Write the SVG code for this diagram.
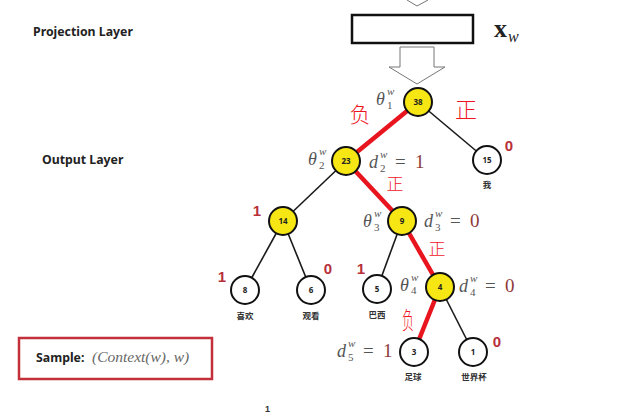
<svg xmlns="http://www.w3.org/2000/svg" width="638" height="413" viewBox="0 0 638 413">
<style>
.lbl{font-family:"Noto Sans","Liberation Sans",sans-serif;font-weight:bold;font-size:12.3px;fill:#222}
.nd{stroke:#111;stroke-width:2;}
.yel{fill:#f5e614}
.wht{fill:#fff}
.num{font-family:"Noto Sans","Liberation Sans",sans-serif;font-weight:bold;font-size:8px;fill:#222;text-anchor:middle}
.word{font-family:"Noto Sans CJK SC",sans-serif;font-weight:bold;font-size:8.5px;fill:#333;text-anchor:middle}
.e{stroke:#1a1a1a;stroke-width:1.6;fill:none}
.r{stroke:#e8141e;stroke-width:4.5;fill:none}
.m{font-family:"Liberation Serif",serif;font-style:italic;fill:#555;font-size:18px}
.ms{font-family:"Liberation Serif",serif;font-style:italic;fill:#555;font-size:11px}
.mn{font-family:"Liberation Serif",serif;fill:#555;font-size:11px}
.eq{font-family:"Liberation Serif",serif;fill:#555;font-size:19px}
.val{font-family:"Liberation Serif",serif;fill:#8e3a3a;font-size:19px}
.bit{font-family:"Liberation Sans",sans-serif;font-weight:bold;font-size:15px;fill:#b8303a;text-anchor:middle}
.hand{font-family:"Noto Sans CJK SC",sans-serif;font-weight:300;fill:#f0141e;text-anchor:middle}
</style>
<rect width="638" height="413" fill="#fff"/>
<text class="lbl" x="33" y="36">Projection Layer</text>
<text class="lbl" x="42" y="164">Output Layer</text>

<!-- input arrow top -->
<polyline points="407,0 417,6 428,0" fill="none" stroke="#777" stroke-width="1"/>
<rect x="352" y="15" width="121" height="28" fill="#fff" stroke="#111" stroke-width="2.5"/>
<text x="494" y="37" font-family="Liberation Serif,serif" font-weight="bold" font-size="26" fill="#222">x</text>
<text x="508" y="42" font-family="Liberation Serif,serif" font-style="italic" font-size="16" fill="#222">w</text>
<polygon points="400,47 434,47 434,67 445,67 417,84 389,67 400,67" fill="#fff" stroke="#777" stroke-width="1"/>

<g id="connectors">
<line class="e" x1="418" y1="102" x2="487" y2="160"/>
<line class="e" x1="346" y1="161" x2="283" y2="221"/>
<line class="e" x1="283" y1="221" x2="245" y2="290"/>
<line class="e" x1="283" y1="221" x2="311" y2="290"/>
<line class="e" x1="402" y1="221" x2="377" y2="289"/>
<line class="e" x1="440" y1="287" x2="473" y2="352"/>
<line class="r" x1="418" y1="102" x2="346" y2="161"/>
<line class="r" x1="346" y1="161" x2="402" y2="221"/>
<line class="r" x1="402" y1="221" x2="440" y2="287"/>
<line class="r" x1="440" y1="287" x2="414" y2="352"/>
</g>

<g id="n38"><circle class="nd yel" cx="418" cy="102" r="14"/><text class="num" x="418" y="105">38</text></g>
<g id="n23"><circle class="nd yel" cx="346" cy="161" r="14"/><text class="num" x="346" y="164">23</text></g>
<g id="n15"><circle class="nd wht" cx="487" cy="160" r="14"/><text class="num" x="487" y="163">15</text><text class="word" x="487" y="188">我</text></g>
<g id="n14"><circle class="nd yel" cx="283" cy="221" r="14"/><text class="num" x="283" y="224">14</text></g>
<g id="n9"><circle class="nd yel" cx="402" cy="221" r="14"/><text class="num" x="402" y="224">9</text></g>
<g id="n8"><circle class="nd wht" cx="245" cy="290" r="14"/><text class="num" x="245" y="293">8</text><text class="word" x="245" y="319">喜欢</text></g>
<g id="n6"><circle class="nd wht" cx="311" cy="290" r="14"/><text class="num" x="311" y="293">6</text><text class="word" x="311" y="319">观看</text></g>
<g id="n5"><circle class="nd wht" cx="377" cy="289" r="14"/><text class="num" x="377" y="292">5</text><text class="word" x="377" y="318">巴西</text></g>
<g id="n4"><circle class="nd yel" cx="440" cy="287" r="14"/><text class="num" x="440" y="290">4</text></g>
<g id="n3"><circle class="nd wht" cx="414" cy="352" r="14"/><text class="num" x="414" y="355">3</text><text class="word" x="413" y="380">足球</text></g>
<g id="n1"><circle class="nd wht" cx="473" cy="352" r="14"/><text class="num" x="473" y="355">1</text><text class="word" x="474" y="380">世界杯</text></g>

<!-- math labels -->
<g id="theta1"><text class="m" x="376" y="105">θ</text><text class="ms" x="387" y="95">w</text><text class="mn" x="387" y="109">1</text></g>
<g id="theta2"><text class="m" x="308" y="165">θ</text><text class="ms" x="319" y="155">w</text><text class="mn" x="319" y="169">2</text></g>
<g id="d2"><text class="m" x="369" y="168">d</text><text class="ms" x="380" y="158">w</text><text class="mn" x="380" y="172">2</text><text class="eq" x="395" y="168">=</text><text class="val" x="415" y="168">1</text></g>
<g id="theta3"><text class="m" x="363" y="227">θ</text><text class="ms" x="374" y="217">w</text><text class="mn" x="374" y="231">3</text></g>
<g id="d3"><text class="m" x="424" y="227">d</text><text class="ms" x="435" y="217">w</text><text class="mn" x="435" y="231">3</text><text class="eq" x="450" y="227">=</text><text class="val" x="470" y="227">0</text></g>
<g id="theta4"><text class="m" x="400" y="291">θ</text><text class="ms" x="411" y="281">w</text><text class="mn" x="411" y="294">4</text></g>
<g id="d4"><text class="m" x="459" y="292">d</text><text class="ms" x="470" y="282">w</text><text class="mn" x="470" y="296">4</text><text class="eq" x="485" y="292">=</text><text class="val" x="505" y="292">0</text></g>
<g id="d5"><text class="m" x="337" y="357">d</text><text class="ms" x="348" y="347">w</text><text class="mn" x="348" y="361">5</text><text class="eq" x="363" y="357">=</text><text class="val" x="383" y="357">1</text></g>

<!-- codes -->
<text class="bit" x="509" y="151">0</text>
<text class="bit" x="257" y="216">1</text>
<text class="bit" x="222" y="282">1</text>
<text class="bit" x="328" y="274">0</text>
<text class="bit" x="361" y="274">1</text>
<text class="bit" x="497" y="347">0</text>

<!-- handwritten annotations -->
<text class="hand" x="360" y="122" font-size="21">负</text>
<text class="hand" x="466" y="118" font-size="22">正</text>
<text class="hand" x="395" y="190" font-size="17">正</text>
<text class="hand" x="437" y="255" font-size="17">正</text>
<text class="hand" font-size="15" transform="translate(408,329) scale(0.8,1.6)">负</text>

<!-- sample box -->
<rect x="19" y="338" width="193" height="41" fill="#fff" stroke="#c3303c" stroke-width="2.5"/>
<text class="lbl" x="36" y="362" font-size="13">Sample:</text>
<text x="92" y="362" font-family="Liberation Serif,serif" font-style="italic" font-size="15.5" fill="#666">(Context(w), w)</text>

<text x="265" y="412" font-family="Liberation Sans,sans-serif" font-weight="bold" font-size="9" fill="#333">1</text>
</svg>
